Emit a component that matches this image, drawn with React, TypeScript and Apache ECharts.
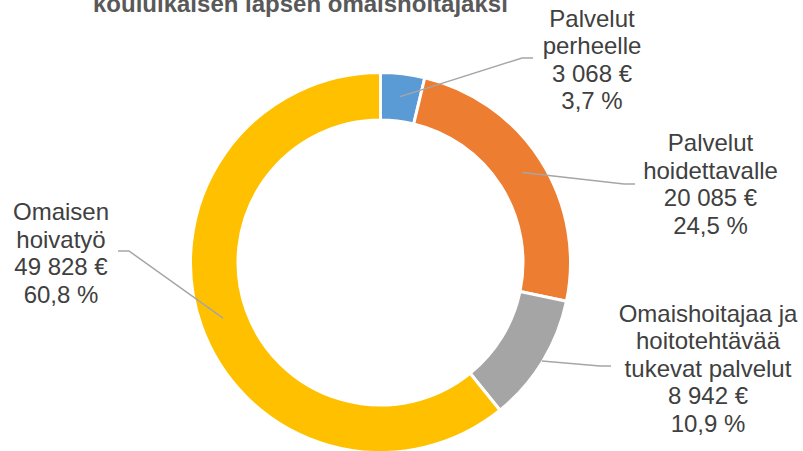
import React, { useEffect, useRef } from "react";
import * as echarts from "echarts";

const TITLE = "kouluikäisen lapsen omaishoitajaksi";
const CATEGORIES = [
  "Palvelut\nperheelle",
  "Palvelut\nhoidettavalle",
  "Omaishoitajaa ja\nhoitotehtävää\ntukevat palvelut",
  "Omaisen\nhoivatyö",
];
const VALUES = [3068, 20085, 8942, 49828];
const COLORS = ["#5B9BD5", "#ED7D31", "#A5A5A5", "#FFC000"];

// layout only: label block centres, leader-line end points, start radius
const CENTER: [number, number] = [380.5, 262.5];
const LABEL_POS: [number, number][] = [
  [592, 59.5],
  [710.5, 184],
  [708, 368],
  [61, 253],
];
const LINE_END: [number, number][] = [
  [533, 58],
  [635, 184],
  [611, 366],
  [118, 251],
];
const LINE_START_R = [167, 168, 189, 167];
const LINE_ELBOW = 11;

const FONT = "'Liberation Sans', Arial, sans-serif";

function fmtThousands(v: number): string {
  return String(v).replace(/\B(?=(\d{3})+(?!\d))/g, " ");
}

export default function App() {
  const ref = useRef<HTMLDivElement>(null);
  useEffect(() => {
    if (!ref.current) return;
    const chart = echarts.init(ref.current, null, { renderer: "svg" });
    const total = VALUES.reduce((a, b) => a + b, 0);
    const midAngles: number[] = [];
    let cum = 0;
    VALUES.forEach((v) => {
      midAngles.push(90 - ((cum + v / 2) / total) * 360);
      cum += v;
    });
    const data = CATEGORIES.map((name, i) => ({
      name,
      value: VALUES[i],
      itemStyle: { color: COLORS[i] },
    }));
    const labelData = CATEGORIES.map((name, i) => ({ name, value: VALUES[i] }));
    chart.setOption({
      animation: false,
      backgroundColor: "#ffffff",
      title: {
        text: TITLE,
        left: 88,
        top: -14,
        textStyle: {
          fontSize: 24,
          fontWeight: "bold",
          color: "#595959",
          fontFamily: FONT,
        },
      },
      series: [
        {
          type: "pie",
          z: 2,
          center: CENTER,
          radius: [142.5, 190],
          startAngle: 90,
          clockwise: true,
          silent: true,
          label: { show: false },
          labelLine: { show: false },
          itemStyle: { borderColor: "#ffffff", borderWidth: 3 },
          emphasis: { disabled: true },
          data,
        },
        {
          type: "pie",
          z: 10,
          center: CENTER,
          radius: [0, 166],
          startAngle: 90,
          clockwise: true,
          silent: true,
          avoidLabelOverlap: false,
          itemStyle: { color: "rgba(0,0,0,0)", borderWidth: 0 },
          emphasis: { disabled: true },
          label: {
            show: true,
            position: "outside",
            fontSize: 24,
            lineHeight: 27.5,
            color: "#404040",
            fontFamily: FONT,
            align: "center",
            formatter: (p: any) => {
              const pct = ((p.value / total) * 100).toFixed(1).replace(".", ",");
              return `${p.name}\n${fmtThousands(p.value)} €\n${pct} %`;
            },
          },
          labelLine: {
            show: true,
            showAbove: true,
            length: 10,
            length2: 10,
            smooth: false,
            lineStyle: { color: "#A6A6A6", width: 1.5 },
          },
          labelLayout: (params: any) => {
            const i = params.dataIndex;
            const pos = LABEL_POS[i];
            const a = (midAngles[i] * Math.PI) / 180;
            const r = LINE_START_R[i];
            const start = [CENTER[0] + r * Math.cos(a), CENTER[1] - r * Math.sin(a)];
            const end = LINE_END[i];
            const dir = end[0] > CENTER[0] ? -1 : 1;
            const elbow = [end[0] + dir * LINE_ELBOW, end[1]];
            return {
              x: pos[0],
              y: pos[1],
              align: "center",
              verticalAlign: "middle",
              hideOverlap: false,
              labelLinePoints: [start, elbow, end],
            };
          },
          data: labelData,
        },
      ],
    });
    return () => chart.dispose();
  }, []);
  return (
    <div
      ref={ref}
      style={{ position: "fixed", left: 0, top: 0, width: 803, height: 451 }}
    />
  );
}
